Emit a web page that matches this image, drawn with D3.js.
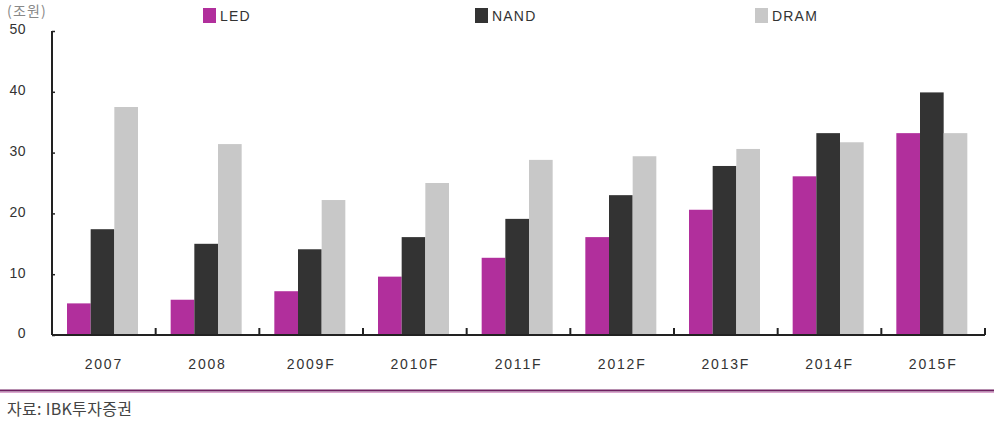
<!DOCTYPE html>
<html><head><meta charset="utf-8">
<script src="https://cdn.jsdelivr.net/npm/d3@7"></script>
<style>body{margin:0;background:#fff}svg{display:block}</style>
</head><body>
<svg id="c" width="994" height="422"></svg>
<script>
const categories = ["2007","2008","2009F","2010F","2011F","2012F","2013F","2014F","2015F"];
const seriesNames = ["LED","NAND","DRAM"];
const led  = [5.2, 5.8, 7.2, 9.6, 12.7, 16.1, 20.6, 26.1, 33.2];
const nand = [17.4, 15.0, 14.1, 16.1, 19.1, 23.0, 27.8, 33.2, 39.9];
const dram = [37.5, 31.4, 22.2, 25.0, 28.8, 29.4, 30.6, 31.7, 33.2];
const yTicks = [0,10,20,30,40,50];
const colors = ["#b12f9c","#333333","#c8c8c8"];
const unitLabel = "(조원)";
const sourceLabel = "자료: IBK투자증권";

const svg = d3.select("#c");
const font = "'Liberation Sans', Arial, sans-serif";
const x = d3.scaleBand().domain(categories).range([52,985]).paddingInner(0).paddingOuter(0);
const xs = d3.scaleBand().domain(seriesNames).range([15, 86]).padding(0);
const y = d3.scaleLinear().domain([0,50]).range([335,31]);
const data = [led, nand, dram];

// bars
seriesNames.forEach((s,si)=>{
  svg.append("g").selectAll("rect").data(categories).join("rect")
    .attr("x", c=>x(c)+xs(s))
    .attr("width", xs.bandwidth())
    .attr("y", (c,i)=>y(data[si][i]))
    .attr("height", (c,i)=>y(0)-y(data[si][i]))
    .attr("fill", colors[si]);
});

// y axis
const ya = svg.append("g").attr("transform","translate(52,0)")
  .call(d3.axisLeft(y).tickValues(yTicks).tickSize(-3).tickPadding(26).tickFormat(d3.format("d")));
ya.select(".domain").attr("stroke","#222").attr("stroke-width",2).attr("d","M0,31V335");
ya.selectAll(".tick line").attr("stroke","#222").attr("stroke-width",1.5);
ya.selectAll("text").attr("font-family",font).attr("font-size",14).attr("fill","#333").attr("dy","0.2em").attr("letter-spacing","0.5px");

// x axis
const xa = svg.append("g").attr("transform","translate(0,335)")
  .call(d3.axisBottom(x).tickSize(0).tickPadding(24));
xa.select(".domain").attr("stroke","#222").attr("stroke-width",2).attr("d","M52,0H985");
xa.selectAll("text").attr("font-family",font).attr("font-size",14).attr("fill","#333").attr("letter-spacing","1.8px");
svg.append("g").selectAll("line").data(categories).join("line")
  .attr("x1",c=>x(c)+x.bandwidth()).attr("x2",c=>x(c)+x.bandwidth())
  .attr("y1",335).attr("y2",328).attr("stroke","#222").attr("stroke-width",2);

// unit label
svg.append("text").attr("x",7).attr("y",16).text(unitLabel)
  .attr("font-family","'Noto Sans CJK KR', sans-serif").attr("font-size",14).attr("fill","#888").attr("letter-spacing","1.2px");

// legend
const legX = [203, 475, 755];
seriesNames.forEach((s,i)=>{
  svg.append("rect").attr("x",legX[i]).attr("y",8).attr("width",13).attr("height",15).attr("fill",colors[i]);
  svg.append("text").attr("x",legX[i]+17).attr("y",21).text(s)
    .attr("font-family",font).attr("font-size",14).attr("fill","#333").attr("letter-spacing","1.2px");
});

// bottom rule
svg.append("line").attr("x1",0).attr("x2",994).attr("y1",390.5).attr("y2",390.5).attr("stroke","#6e1f60").attr("stroke-width",2);
svg.append("line").attr("x1",0).attr("x2",994).attr("y1",392.5).attr("y2",392.5).attr("stroke","#dba6cf").attr("stroke-width",1);

svg.append("text").attr("x",7).attr("y",415).text(sourceLabel)
  .attr("font-family","'Noto Sans CJK KR', sans-serif").attr("font-size",16).attr("fill","#444").attr("letter-spacing","0.3px");
</script>
</body></html>
